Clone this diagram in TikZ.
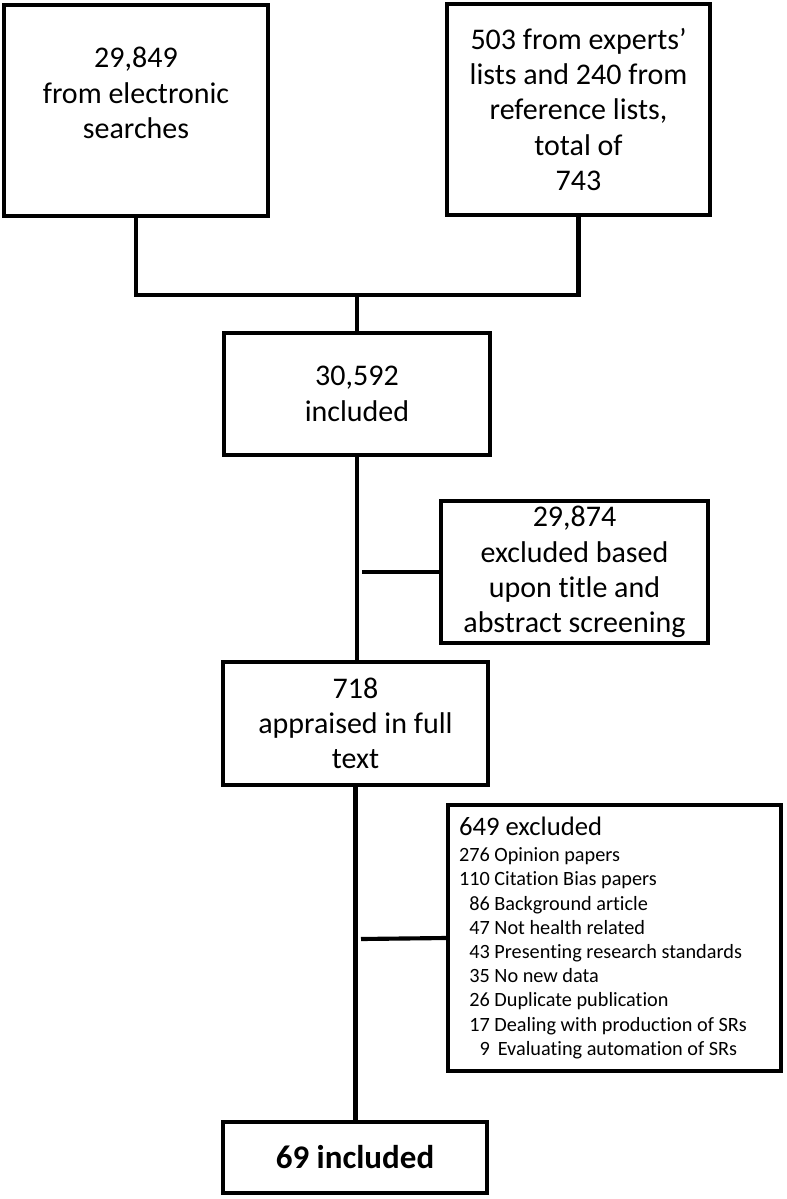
\documentclass[tikz,border=0pt]{standalone}
\usepackage{fontspec}
\setmainfont{Carlito}[Ligatures=NoCommon]
\newcommand{\bx}{\fontsize{22.5pt}{26.5pt}\selectfont}
\newcommand{\sm}{\fontsize{15.2pt}{18.15pt}\selectfont\spaceskip=0pt\xspaceskip=0pt\relax}
\tikzset{
  box/.style={rectangle,draw,line width=3.1pt,inner sep=0pt,align=center,font=\bx},
  link/.style={line width=3.1pt}
}
\begin{document}
\begin{tikzpicture}[x=0.75pt,y=-0.75pt]
    \useasboundingbox (0,0) rectangle (786,1199);
    \node[box,minimum width=198pt,minimum height=158.25pt] (S1) at (136,110.5) {29,849\\from electronic\\searches\\ \mbox{}};
    \node[box,minimum width=197.25pt,minimum height=158.25pt] (S2) at (578.5,109.5) {503 from experts’\\lists and 240 from\\reference lists,\\total of\\743};
    \node[box,minimum width=199.5pt,minimum height=91.5pt] (I1) at (357,394) {30,592\\included};
    \node[box,minimum width=200.25pt,minimum height=106.5pt] (X1) at (574.5,572) {29,874\\excluded based\\upon title and\\abstract screening};
    \node[box,minimum width=198.75pt,minimum height=92.25pt] (A) at (355.5,723.5) {718\\appraised in full\\text};
    \node[box,align=flush left,inner xsep=8.25pt,text width=233.25pt,minimum height=199.5pt,font=\sm] (X2) at (614.5,938) {%
      {\fontsize{20pt}{20pt}\selectfont 649 excluded}\\[1.3pt]
      276 Opinion papers\\
      110 Citation Bias papers\\
      \phantom{0}86 Background article\\
      \phantom{0}47 Not health related\\
      \phantom{0}43 Presenting research standards\\
      \phantom{0}35 No new data\\
      \phantom{0}26 Duplicate publication\\
      \phantom{0}17 Dealing with production of SRs\\
      \phantom{00}9 \,Evaluating automation of SRs};
    \node[box,minimum width=198pt,minimum height=53.25pt,font=\fontsize{24.75pt}{28pt}\selectfont\bfseries] (I2) at (355,1157.5) {69 included};
    \coordinate (J) at (357,295);
    \coordinate (d1) at (362,572);
    \coordinate (d2) at (361,939);
    \draw[link] (S1.south) |- (J);
    \draw[link] (S2.south) |- (J);
    \draw[link] (J) -- (I1.north);
    \draw[link] (I1.south) -- (I1.south |- A.north);
    \draw[link] (d1) -- (X1.west);
    \draw[link] (A.south) -- (A.south |- I2.north);
    \draw[link] (d2) -- (X2.west);
  \end{tikzpicture}
\end{document}
